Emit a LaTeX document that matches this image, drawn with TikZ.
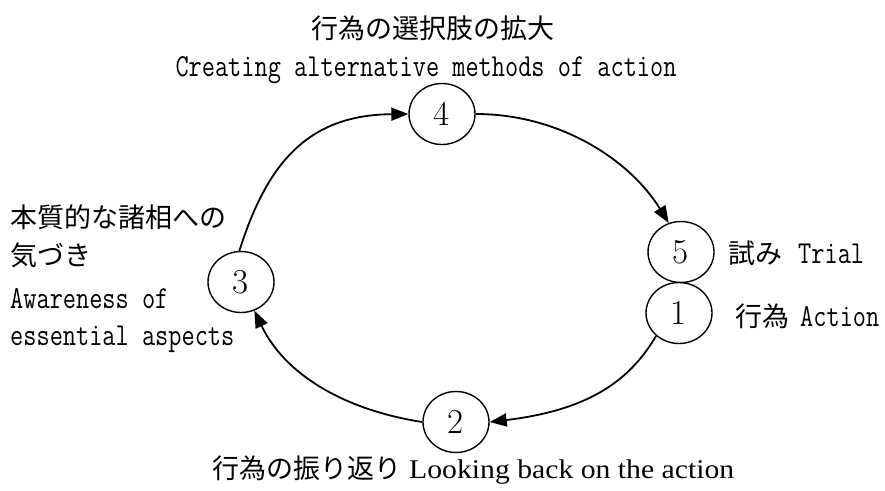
\documentclass[tikz,border=0pt]{standalone}
\usepackage{fontspec}
\usepackage{graphicx}
\usetikzlibrary{arrows.meta,shapes.geometric}
\newfontfamily\jpfont{Noto Sans CJK JP}
\newfontfamily\latserif{Liberation Serif}
% narrow monospaced Latin text
\newcommand\mono[1]{{\ttfamily\fontsize{32}{32}\selectfont\scalebox{0.8}[1]{#1}}}

\tikzset{
  stage/.style={draw, ellipse, line width=1.4pt, minimum width=66pt,
    minimum height=61pt, inner sep=0pt, font=\fontsize{35}{35}\selectfont},
  flow/.style={line width=1.8pt, -{Triangle[length=17pt,width=13pt]}},
  lbl/.style={inner sep=0pt, font=\jpfont\fontsize{27}{30}\selectfont},
}

\begin{document}
\begin{tikzpicture}[x=1pt, y=-1pt]
\useasboundingbox (0,0) rectangle (885,490);

% the five stages of the cycle
\node[stage] (c4) at (442,114) {4};
\node[stage] (c3) at (241,282) {3};
\node[stage] (c5) at (681,252) {5};
\node[stage] (c1) at (679,313) {1};
\node[stage] (c2) at (456,422) {2};

% arrows between the stages
\draw[flow] (c3.93) .. controls (268,160) and (310,115) .. (c4.west);
\draw[flow] (c4.east) .. controls (560,114) and (630,160) .. (c5.113);
\draw[flow] (c1.225) .. controls (630,380) and (590,410) .. (c2.east);
\draw[flow] (c2.west) .. controls (345,410) and (285,375) .. (c3.295);

% labels
\node[lbl] (t4a) at (433,28) {行為の選択肢の拡大};
\node[lbl] (t4b) at (426,70) {\mono{Creating alternative methods of action}};

\node[lbl, anchor=west] (t3a) at (10,217) {本質的な諸相への};
\node[lbl, anchor=west] (t3b) at (10,255) {気づき};
\node[lbl, anchor=west] (t3c) at (10,299) {\mono{Awareness of}};
\node[lbl, anchor=west] (t3d) at (10,339) {\mono{essential aspects}};

\node[lbl, anchor=west] (t5) at (728,253) {試み\hspace{16pt}\mono{Trial}};
\node[lbl, anchor=west] (t1) at (735,316) {行為\hspace{11pt}\mono{Action}};

\node[lbl, anchor=west] (t2) at (212,470)
  {行為の振り返り\hspace{8pt}{\latserif\resizebox{325pt}{\height}{Looking back on the action}}};
\end{tikzpicture}
\end{document}
